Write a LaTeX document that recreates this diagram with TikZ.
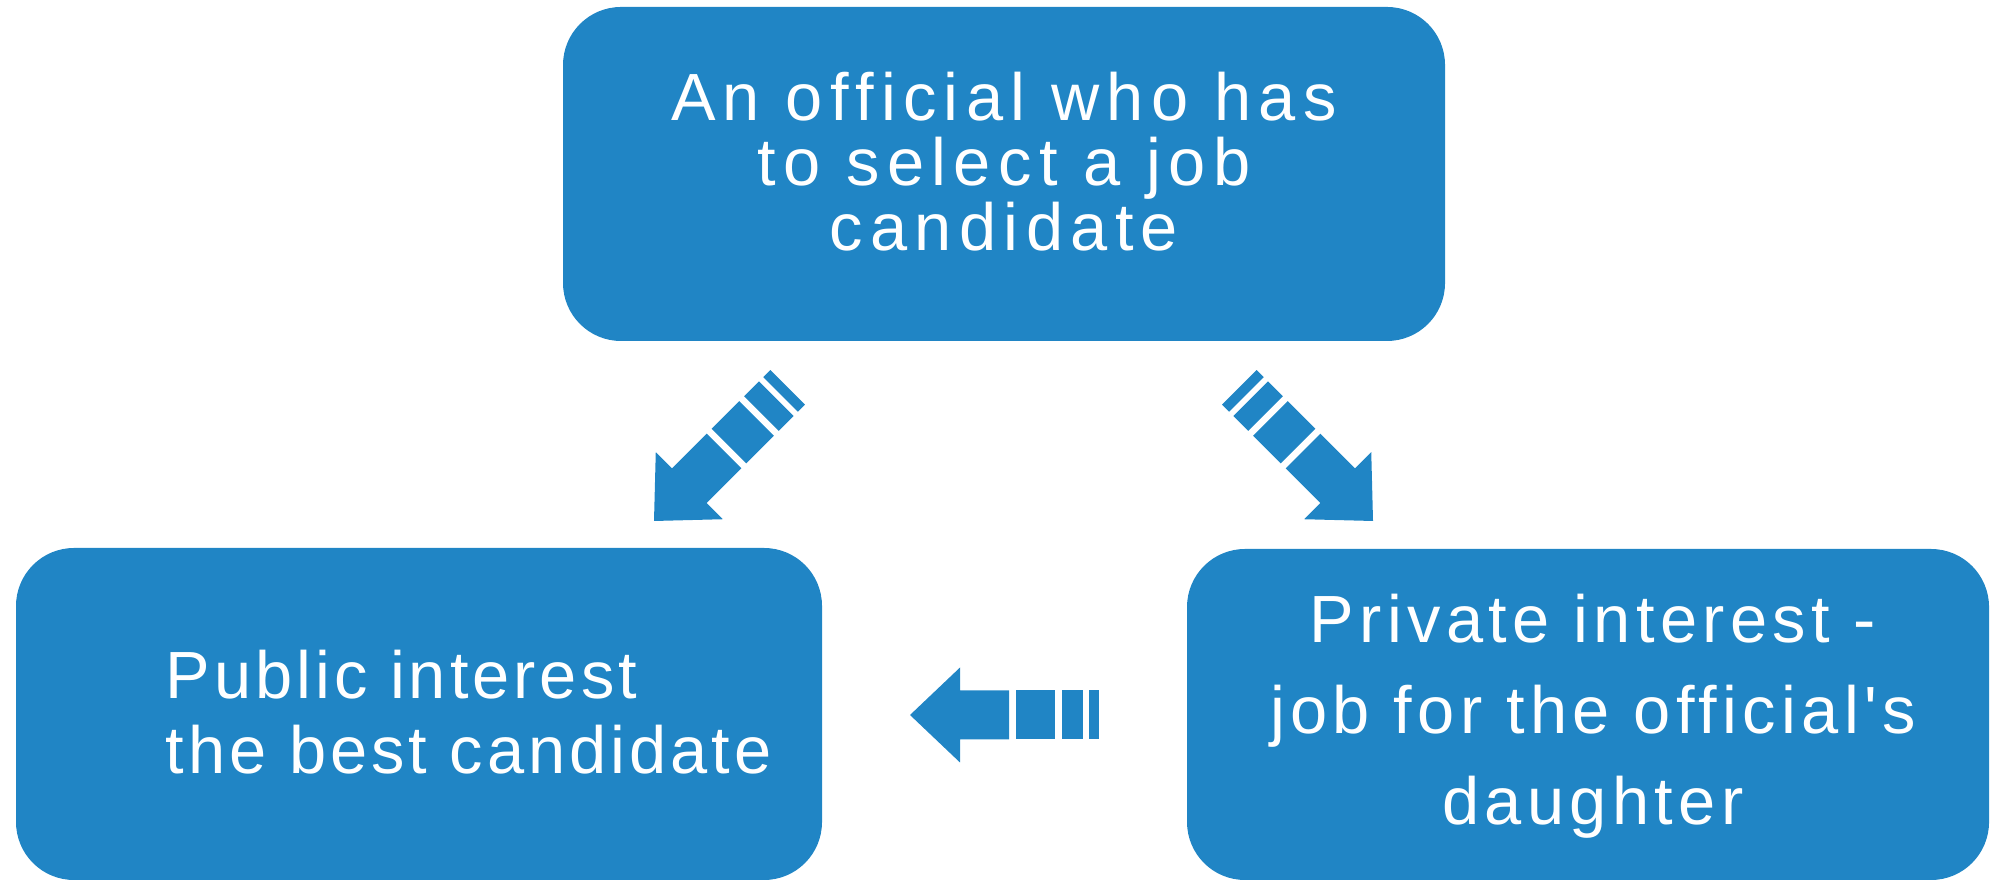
\documentclass[tikz,border=0pt]{standalone}
\usepackage{fontspec}
\setmainfont{Liberation Sans}[LetterSpace=8]
\newfontfamily\topfont{Liberation Sans}[LetterSpace=11]
\newfontfamily\leftfont{Liberation Sans}[LetterSpace=6]
\newfontfamily\rightfont{Liberation Sans}[LetterSpace=8]
\definecolor{boxblue}{RGB}{32,133,197}
\tikzset{
  box/.style={fill=boxblue, draw=none, rounded corners=0.58cm},
  lbl/.style={text=white, inner sep=0pt, anchor=base},
  pics/stripearrow/.style={code={
    \fill[boxblue] (0,0) -- (0.50,0.475) -- (0.50,0.245) -- (0.99,0.245) -- (0.99,-0.245) -- (0.50,-0.245) -- (0.50,-0.475) -- cycle;
    \fill[boxblue] (1.06,-0.245) rectangle (1.45,0.245);
    \fill[boxblue] (1.52,-0.245) rectangle (1.73,0.245);
    \fill[boxblue] (1.79,-0.245) rectangle (1.89,0.245);
  }}
}
\begin{document}
\begin{tikzpicture}
\useasboundingbox (0,0) rectangle (19.90,8.81);
% boxes
\fill[box] (5.63,5.40) rectangle (14.45,8.74);
\fill[box] (0.16,0.01) rectangle (8.22,3.33);
\fill[box] (11.87,0.01) rectangle (19.89,3.32);
% texts (anchor base = baseline of last line)
\node[lbl, align=center, font=\topfont\fontsize{19pt}{18.5pt}\selectfont] (ttop) at (10.04,6.30) {An official who has\\to select a job\\candidate};
\node[lbl, align=left, anchor=base west, font=\leftfont\fontsize{19pt}{21.6pt}\selectfont] (tleft) at (1.65,1.07) {Public interest\\the best candidate};
\node[lbl, align=center, font=\rightfont\fontsize{19pt}{26pt}\selectfont] (tright) at (15.93,0.56) {Private interest -\\job for the official's\\daughter};
% arrows
\coordinate (a1) at (6.54,3.60);
\coordinate (a2) at (13.73,3.60);
\coordinate (a3) at (9.10,1.66);
\pic[rotate=45] at (a1) {stripearrow};
\pic[rotate=135] at (a2) {stripearrow};
\pic at (a3) {stripearrow};
\end{tikzpicture}
\end{document}
